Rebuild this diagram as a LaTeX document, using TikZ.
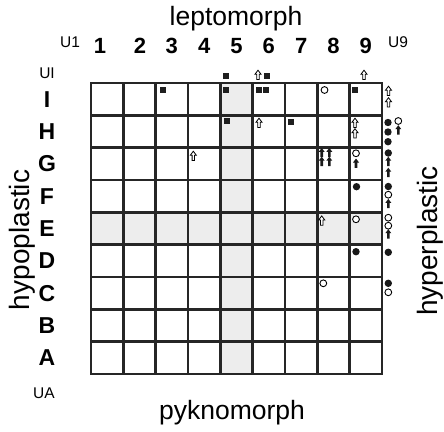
\documentclass[tikz,border=0pt]{standalone}
\usepackage{fontspec}
\setmainfont{Liberation Sans}
\begin{document}
\begin{tikzpicture}[x=1pt,y=-1pt,
  gridline/.style={line width=2.6pt, draw=black!85},
  shadebox/.style={fill=black!7},
  biglbl/.style={font=\fontsize{26.5}{30}\selectfont, inner sep=0pt},
  sidelbl/.style={font=\fontsize{28}{32}\selectfont, inner sep=0pt, rotate=90},
  numlbl/.style={font=\fontsize{22}{25}\bfseries\selectfont, inner sep=0pt},
  letlbl/.style={font=\fontsize{23}{26}\bfseries\selectfont, inner sep=0pt},
  smlbl/.style={font=\fontsize{15.5}{18}\selectfont, inner sep=0pt},
  sq/.pic={\fill[black!88] (-3,-3) rectangle (3,3);},
  fc/.pic={\fill[black!90] (0,0) circle (3.7);},
  oc/.pic={\draw[line width=0.9pt, fill=white] (0,0) circle (3.4);},
  farr/.pic={\fill[black!90] (0,-4.8) -- (3,-0.8) -- (1.3,-0.8) -- (1.3,4.5) -- (-1.3,4.5) -- (-1.3,-0.8) -- (-3,-0.8) -- cycle;},
  oarr/.pic={\draw[line width=0.8pt, fill=white, line join=miter] (0,-4.8) -- (3,-0.8) -- (1.2,-0.8) -- (1.2,4.5) -- (-1.2,4.5) -- (-1.2,-0.8) -- (-3,-0.8) -- cycle;}
]
\useasboundingbox (0,0) rectangle (444,431);
% shading
\fill[shadebox] (220.3,83) rectangle (252.7,374);
\fill[shadebox] (91,212.3) rectangle (382,244.7);
% grid
\foreach \i in {1,...,8} {
  \draw[gridline] ({91+\i*32.33},83) -- ({91+\i*32.33},374);
  \draw[gridline] (91,{83+\i*32.33}) -- (382,{83+\i*32.33});
}
\draw[gridline] (91,83) rectangle (382,374);
% labels
\node[biglbl] (lepto) at (236,19) {leptomorph};
\node[biglbl] (pykno) at (232,413) {pyknomorph};
\node[sidelbl] (hypo) at (22,240) {hypoplastic};
\node[sidelbl] (hyper) at (430,241) {hyperplastic};
\node[smlbl] (u1) at (70,42) {U1};
\node[smlbl] (u9) at (398,42) {U9};
\node[smlbl] (ui) at (47,73) {UI};
\node[smlbl] (ua) at (44,393) {UA};
\node[numlbl] (n1) at (100,46) {1};
\node[numlbl] (n2) at (140,46) {2};
\foreach \n in {3,...,9} {
  \node[numlbl] (n\n) at ({91+(\n-0.5)*32.33},46) {\n};
}
\foreach \l [count=\r] in {I,H,G,F,E,D,C,B,A} {
  \node[letlbl] (row\l) at (47,{83+(\r-0.5)*32.33}) {\l};
}
% markers above grid
\pic at (226,76) {sq};
\pic at (258,75) {oarr};
\pic at (267,76) {sq};
\pic at (364,75) {oarr};
% row I
\pic at (162.5,90) {sq};
\pic at (226,90) {sq};
\pic at (259,90) {sq};
\pic at (266,90) {sq};
\pic at (324.5,90) {oc};
\pic at (355,89.5) {sq};
\pic at (388.5,91) {oarr};
\pic at (388.5,102.5) {oarr};
% row H
\pic at (226.5,121) {sq};
\pic at (259,123) {oarr};
\pic at (290.7,121.5) {sq};
\pic at (355,123) {oarr};
\pic at (355,133.5) {oarr};
\pic at (388,122.5) {fc};
\pic at (388,132) {fc};
\pic at (388,141.7) {fc};
\pic at (398.3,121) {oc};
\pic at (398.3,130) {farr};
% row G
\pic at (193.3,156) {oarr};
\pic at (321.7,152.7) {farr};
\pic at (329.3,152.7) {farr};
\pic at (321.7,161.5) {farr};
\pic at (329.3,161.5) {farr};
\pic at (356,153.3) {oc};
\pic at (356,163.3) {farr};
\pic at (388.3,153) {fc};
\pic at (388.3,161.5) {farr};
\pic at (388.3,172.5) {farr};
% row F
\pic at (356.5,186.7) {fc};
\pic at (388.3,186.5) {fc};
\pic at (388.3,194.7) {oc};
\pic at (388.3,203.7) {farr};
% row E
\pic at (321.7,220.7) {oarr};
\pic at (356,219.3) {oc};
\pic at (388.3,217.7) {oc};
\pic at (388.3,225.7) {oc};
\pic at (388.3,234) {farr};
% row D
\pic at (356,251.7) {fc};
\pic at (388.3,252.3) {fc};
% row C
\pic at (323.3,283.3) {oc};
\pic at (388.3,283.3) {fc};
\pic at (388.3,292.3) {oc};
\end{tikzpicture}
\end{document}
